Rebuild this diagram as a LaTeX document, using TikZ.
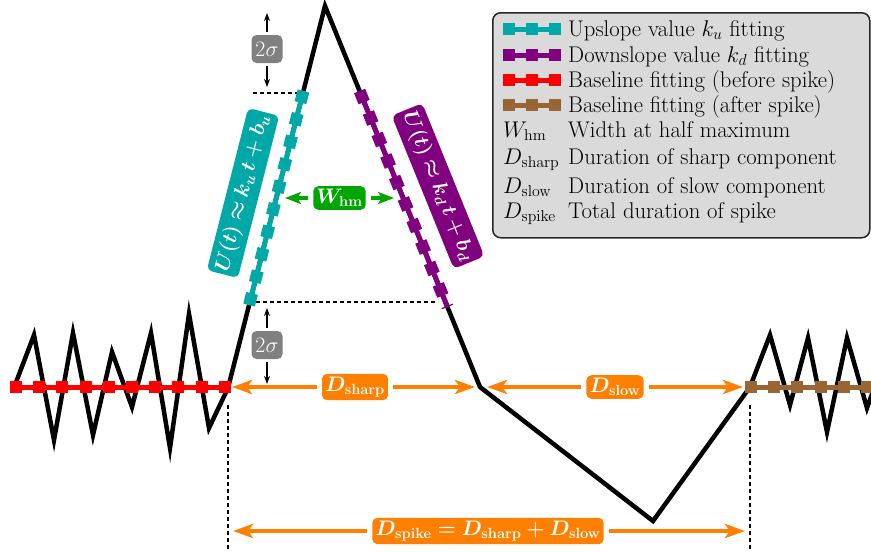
\RequirePackage{fix-cm}
\documentclass[tikz,border=0pt]{standalone}
\usepackage{bm}
\usetikzlibrary{arrows.meta}
\definecolor{cfit}{RGB}{0,168,168}
\definecolor{pfit}{RGB}{128,0,128}
\definecolor{rfit}{RGB}{255,0,0}
\definecolor{bfit}{RGB}{153,102,51}
\definecolor{dorange}{RGB}{255,128,0}
\definecolor{wgreen}{RGB}{0,166,0}
\definecolor{sgray}{RGB}{128,128,128}
\definecolor{legbg}{RGB}{218,218,218}
\begin{document}
\begin{tikzpicture}[x=1pt,y=-1pt,
  every node/.style={font=\fontsize{22.7}{26}\selectfont},
  signal/.style={draw=black,line width=4.5pt,line join=miter},
  fit/.style={draw=#1,line width=12pt,dash pattern=on 12pt off 11.2pt,
    preaction={draw=#1,line width=5pt,solid}},
  guide/.style={draw=black,line width=1.8pt,dash pattern=on 4pt off 3pt},
  dlabel/.style={fill=#1,text=white,rounded corners=5pt,inner sep=3pt,
    font=\fontsize{21}{24}\selectfont},
  oarrow/.style={draw=dorange,line width=4pt,
    -{Stealth[length=20pt,width=14pt,inset=5pt]},shorten <=5pt},
  warrow/.style={draw=wgreen,line width=3.5pt,
    -{Stealth[length=16pt,width=12pt,inset=4pt]},shorten <=5pt},
  sarrow/.style={draw=black,line width=1.2pt,
    -{Stealth[length=8pt,width=6pt]},shorten <=3pt},
  legtext/.style={anchor=base west,inner sep=0pt}]
\useasboundingbox (0,0) rectangle (871,552);
\clip (0,0) rectangle (871,552);

% signal
\draw[signal] (15,385) -- (34,335) -- (54,440) -- (73,333) -- (93,435)
  -- (112,352) -- (132,407) -- (151,333) -- (170,448) -- (189,314)
  -- (209,428) -- (228,388) coordinate (bstart) -- (325,6) coordinate (peak)
  -- (480,387) coordinate (kink) -- (653,521) coordinate (vmin)
  -- (750,387) coordinate (bend) -- (770,335) -- (790,405) -- (808,338)
  -- (827,432) -- (847,338) -- (867,408) -- (880,372);

% guide lines
\coordinate (gtl) at (253,93);  \coordinate (gtr) at (300,93);
\coordinate (gbl) at (256,302); \coordinate (gbr) at (438,302);
\coordinate (vl1) at (228,405); \coordinate (vl2) at (228,552);
\coordinate (vr1) at (750,405); \coordinate (vr2) at (750,552);
\draw[guide] (gtl) -- (gtr);
\draw[guide] (gbl) -- (gbr);
\draw[guide] (vl1) -- (vl2);
\draw[guide] (vr1) -- (vr2);

% fitting lines
\coordinate (r1) at (10,387);    \coordinate (r2) at (231,387);
\coordinate (c1) at (249.1,305); \coordinate (c2) at (303.4,91);
\coordinate (p1) at (359.6,91);  \coordinate (p2) at (447.5,307);
\coordinate (b1) at (745,387);   \coordinate (b2) at (890,387);
\draw[fit=rfit] (r1) -- (r2);
\draw[fit=cfit] (c2) -- (c1);
\draw[fit=pfit] (p1) -- (p2);
\draw[fit=bfit] (b1) -- (b2);

% 2 sigma marks
\node[dlabel=sgray,minimum width=31pt,minimum height=28pt,inner sep=1pt,font=\fontsize{22}{24}\selectfont] (sigT) at (267,49) {$2\sigma$};
\coordinate (sigTu) at (267,13); \coordinate (sigTd) at (267,87);
\draw[sarrow] (sigT.north) -- (sigTu);
\draw[sarrow] (sigT.south) -- (sigTd);
\node[dlabel=sgray,minimum width=31pt,minimum height=28pt,inner sep=1pt,font=\fontsize{22}{24}\selectfont] (sigB) at (267,345) {$2\sigma$};
\coordinate (sigBu) at (267,308); \coordinate (sigBd) at (267,384);
\draw[sarrow] (sigB.north) -- (sigBu);
\draw[sarrow] (sigB.south) -- (sigBd);

% fit equations
\node[dlabel=cfit,rotate=75.7,minimum height=32pt] (ulab) at (243,193) {$\bm{U(t)\approx k_u\,t+b_u}$};
\node[dlabel=pfit,rotate=-67.9,minimum height=33pt] (dlab) at (438,186) {$\bm{U(t)\approx k_d\,t+b_d}$};

% width at half maximum
\node[dlabel=wgreen] (whm) at (339.5,198) {$\bm{W}_{\mathbf{hm}}$};
\coordinate (whmL) at (285,198); \coordinate (whmR) at (394,198);
\draw[warrow] (whm.west) -- (whmL);
\draw[warrow] (whm.east) -- (whmR);

% durations
\node[dlabel=dorange] (dsharp) at (355,387) {$\bm{D}_{\mathbf{sharp}}$};
\coordinate (shL) at (232,387); \coordinate (shR) at (475,387);
\draw[oarrow] (dsharp.west) -- (shL);
\draw[oarrow] (dsharp.east) -- (shR);
\node[dlabel=dorange] (dslow) at (615,387) {$\bm{D}_{\mathbf{slow}}$};
\coordinate (slL) at (487,387); \coordinate (slR) at (743,387);
\draw[oarrow] (dslow.west) -- (slL);
\draw[oarrow] (dslow.east) -- (slR);
\node[dlabel=dorange] (dspike) at (488,531) {$\bm{D}_{\mathbf{spike}}\bm{=D}_{\mathbf{sharp}}\bm{+D}_{\mathbf{slow}}$};
\coordinate (spL) at (233,531); \coordinate (spR) at (745,531);
\draw[oarrow] (dspike.west) -- (spL);
\draw[oarrow] (dspike.east) -- (spR);

% legend
\node[draw=black!85,line width=1.5pt,fill=legbg,rounded corners=8pt,
  minimum width=377pt,minimum height=225pt,anchor=north west,inner sep=0pt] (legend) at (492,12) {};
\draw[fit=cfit] (503,29) -- (561,29);
\draw[fit=pfit] (503,55) -- (561,55);
\draw[fit=rfit] (503,80) -- (561,80);
\draw[fit=bfit] (503,105) -- (561,105);
\node[legtext] (l1) at (568,36) {Upslope value $k_u$ fitting};
\node[legtext] (l2) at (568,62) {Downslope value $k_d$ fitting};
\node[legtext] (l3) at (568,87) {Baseline fitting (before spike)};
\node[legtext] (l4) at (568,112) {Baseline fitting (after spike)};
\node[legtext] (m5) at (503,137) {$W_{\mathrm{hm}}$};
\node[legtext] (l5) at (568,137) {Width at half maximum};
\node[legtext] (m6) at (503,164) {$D_{\mathrm{sharp}}$};
\node[legtext] (l6) at (568,164) {Duration of sharp component};
\node[legtext] (m7) at (503,193) {$D_{\mathrm{slow}}$};
\node[legtext] (l7) at (568,193) {Duration of slow component};
\node[legtext] (m8) at (503,218) {$D_{\mathrm{spike}}$};
\node[legtext] (l8) at (568,218) {Total duration of spike};
\end{tikzpicture}
\end{document}
